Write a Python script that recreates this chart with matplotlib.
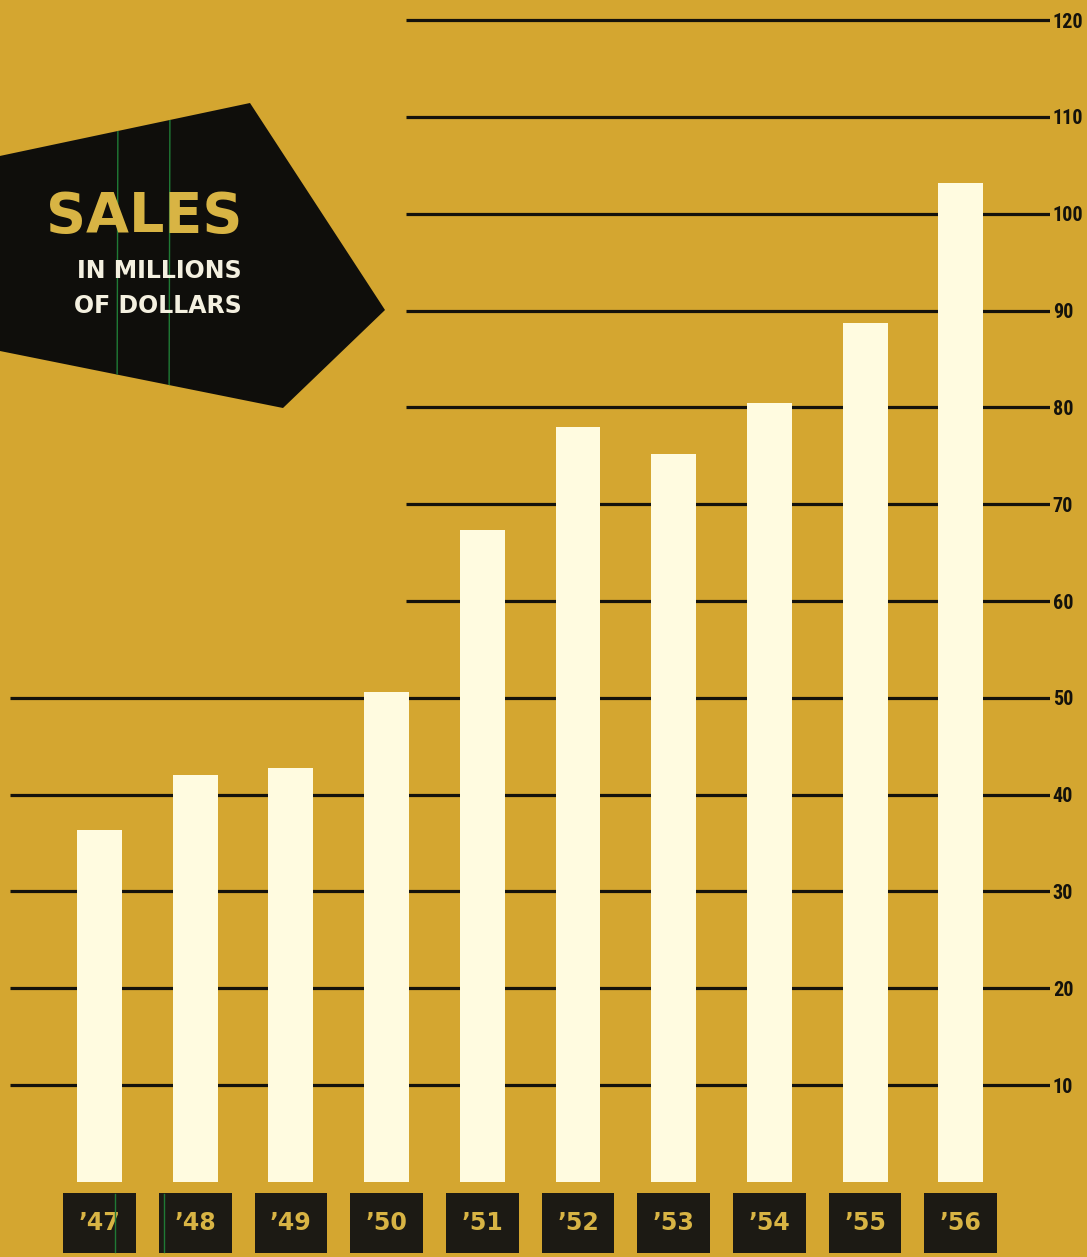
import numpy as np
import matplotlib
matplotlib.use('Agg')
import matplotlib.pyplot as plt
from matplotlib.patches import Polygon
from matplotlib.lines import Line2D

# data
years = ['’47', '’48', '’49', '’50', '’51', '’52', '’53', '’54', '’55', '’56']
sales = [36.3, 42.0, 42.8, 50.6, 67.3, 78.0, 75.2, 80.5, 88.7, 103.2]
grid_levels = [10, 20, 30, 40, 50, 60, 70, 80, 90, 100, 110, 120]
tick_labels = ['10', '20', '30', '40', '50', '60', '70', '80', '90', '100', '110', '120']

BG = '#d4a630'
CREAM = '#fffbe0'
DARK = '#0f0e0b'
BOX = '#1c1a14'
GOLD = '#d8b444'
GREEN = '#1f7a35'

W, H = 1087, 1257
fig = plt.figure(figsize=(W / 100, H / 100), dpi=100, facecolor=BG)
ax = fig.add_axes([0, 0, 1050 / W, 1])
ax.set_facecolor('none')

x = np.arange(len(years))
step = 95.7  # px between bars
x0 = 99.5    # px centre of first bar
ax.set_xlim(-x0 / step, (1050 - x0) / step)
ax.set_ylim(-7.75, 122.07)

# gridlines: lower ones run across, upper ones stop at the label badge
for v in grid_levels:
    start = (10 - x0) / step if v <= 50 else (406 - x0) / step
    ax.hlines(v, start, ax.get_xlim()[1], color='#14120c', lw=2.3, zorder=1)

ax.bar(x, sales, width=0.47, color=CREAM, zorder=3)

# year badges under the bars
ax.bar(x, -6.19, bottom=-1.14, width=0.76, color=BOX, zorder=3)
for i, lab in enumerate(years):
    ax.text(i, -4.25, lab, ha='center', va='center', color=GOLD,
            fontsize=17, fontweight='bold', family='DejaVu Sans', zorder=4)

ax.yaxis.tick_right()
ax.set_yticks(grid_levels)
ax.set_yticklabels(tick_labels)
ax.tick_params(axis='y', length=0, pad=2, labelsize=14.5, labelcolor='#14120c')
for t in ax.get_yticklabels():
    t.set_family(['Roboto Condensed', 'DejaVu Sans Condensed', 'Liberation Sans'])
    t.set_fontstretch('condensed')
    t.set_fontweight('bold')
ax.set_xticks([])
for s in ax.spines.values():
    s.set_visible(False)


def fx(px):
    return px / W


def fy(py):
    return 1 - py / H


# black pentagon badge
pts = [(-5, 157), (250, 103), (385, 310), (283, 408), (-5, 350)]
badge = Polygon([(fx(a), fy(b)) for a, b in pts], closed=True,
                transform=fig.transFigure, facecolor=DARK, edgecolor='none', zorder=5)
fig.add_artist(badge)

for gx in (118, 170):
    ln = Line2D([fx(gx), fx(gx - 1)], [fy(90), fy(420)], transform=fig.transFigure,
                color=GREEN, lw=1, zorder=6)
    fig.add_artist(ln)
    ln.set_clip_path(badge)

t = fig.text(fx(242), fy(217), 'SALES', ha='right', va='center', color=GOLD,
             fontsize=40, fontweight='bold', family='DejaVu Sans', zorder=7)
t.set_clip_path(badge)
fig.text(fx(242), fy(271), 'IN MILLIONS', ha='right', va='center', color='#f4f0e0',
         fontsize=17, fontweight='bold', family='DejaVu Sans', zorder=7)
fig.text(fx(242), fy(306), 'OF DOLLARS', ha='right', va='center', color='#f4f0e0',
         fontsize=17, fontweight='bold', family='DejaVu Sans', zorder=7)

# scanner streaks on the first two badges
for gx in (115, 164):
    fig.add_artist(Line2D([fx(gx), fx(gx)], [fy(1194), fy(1252)], transform=fig.transFigure,
                          color=GREEN, lw=1, zorder=6))

fig.savefig('out.png', dpi=100, facecolor=BG)
